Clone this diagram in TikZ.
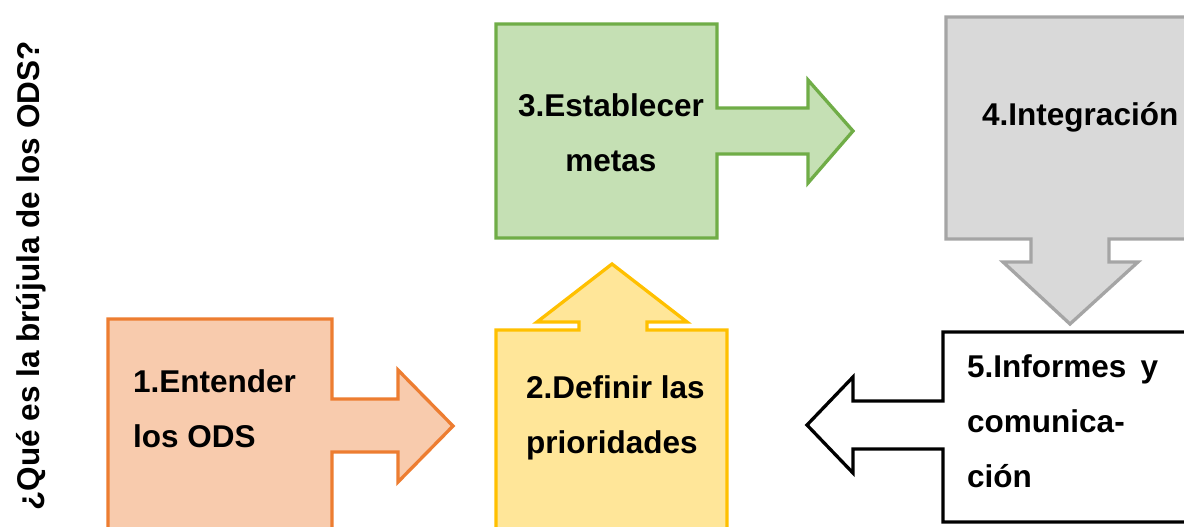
\documentclass[tikz,border=0pt]{standalone}
\usepackage{fontspec}
\setmainfont{Liberation Sans}
\definecolor{orfill}{HTML}{F8CBAD}\definecolor{ordraw}{HTML}{ED7D31}
\definecolor{yefill}{HTML}{FFE699}\definecolor{yedraw}{HTML}{FFC000}
\definecolor{grfill}{HTML}{C5E0B4}\definecolor{grdraw}{HTML}{70AD47}
\definecolor{gyfill}{HTML}{D9D9D9}\definecolor{gydraw}{HTML}{A5A5A5}
\tikzset{
  callout/.style={line width=3.3pt, line join=miter},
  lbl/.style={inner sep=0pt, font=\fontsize{31.5}{55}\selectfont\bfseries, text=black},
}
\begin{document}
\begin{tikzpicture}[x=1pt,y=-1pt]
\clip (0,0) rectangle (1184,527);
\fill[white] (0,0) rectangle (1184,527);
% 1 orange
\draw[callout, fill=orfill, draw=ordraw] (108,560) -- (108,319) -- (332,319) -- (332,399) -- (398,399) -- (398,370) -- (453,426) -- (398,482) -- (398,452) -- (332,452) -- (332,560);
% 3 green
\draw[callout, fill=grfill, draw=grdraw] (496,24) -- (717,24) -- (717,108) -- (808,108) -- (808,80) -- (853,131) -- (808,183) -- (808,154) -- (717,154) -- (717,238) -- (496,238) -- cycle;
% 4 gray
\draw[callout, fill=gyfill, draw=gydraw] (1200,17) -- (946,17) -- (946,239) -- (1031,239) -- (1031,262) -- (1003,262) -- (1070,324) -- (1138,262) -- (1109,262) -- (1109,239) -- (1200,239);
% 5 white
\draw[callout, fill=white, draw=black] (1200,332) -- (943,332) -- (943,401) -- (853,401) -- (853,377) -- (807,425) -- (853,473) -- (853,449) -- (943,449) -- (943,522) -- (1200,522);
% 2 yellow
\draw[callout, fill=yefill, draw=yedraw] (496,560) -- (496,330) -- (579,330) -- (579,322) -- (537,322) -- (612,264) -- (687,322) -- (647,322) -- (647,330) -- (727,330) -- (727,560);
% texts (base anchor = baseline of the last line)
\node[lbl, anchor=base west, align=left] (t1) at (133,447) {1.Entender\\los ODS};
\node[lbl, anchor=base west, align=left] (t2) at (526,453) {2.Definir las\\prioridades};
\node[lbl, anchor=base, align=center] (t3) at (611,171) {3.Establecer\\metas};
\node[lbl, anchor=base west] (t4) at (982,125) {4.Integración};
\node[lbl, anchor=base west, align=left] (t5) at (967,487) {5.Informes\hspace{0.45em}y\\comunica-\\ción};
\node[lbl, anchor=base, rotate=90] (title) at (39,276) {¿Qué es la brújula de los ODS?};
\end{tikzpicture}
\end{document}
